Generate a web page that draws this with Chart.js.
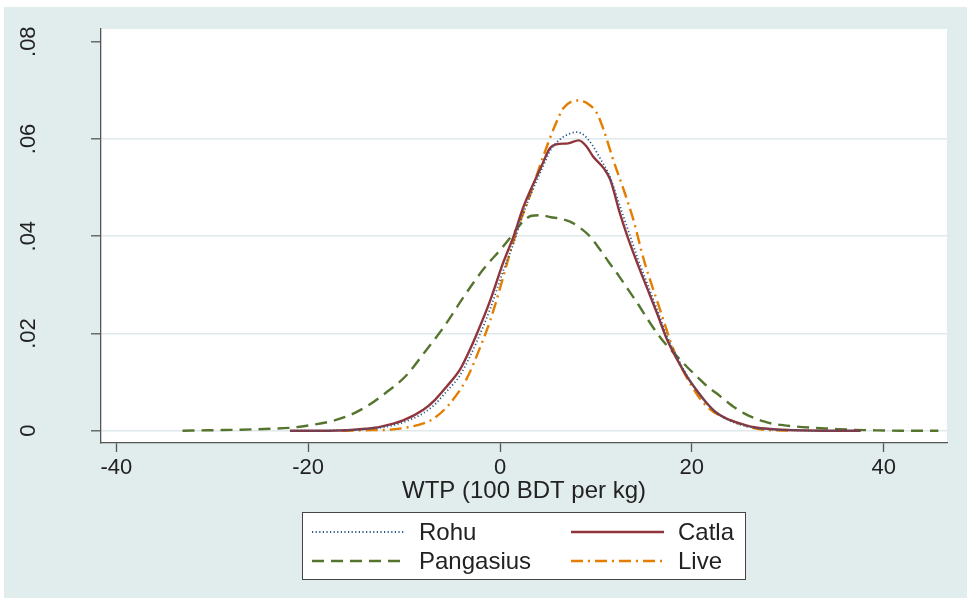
<!DOCTYPE html>
<html>
<head>
<meta charset="utf-8">
<title>WTP kernel density</title>
<script src="https://cdn.jsdelivr.net/npm/chart.js@4.4.1/dist/chart.umd.min.js"></script>
<style>
  html, body { margin: 0; padding: 0; background: #fff; }
  #wrap { width: 971px; height: 603px; }
</style>
</head>
<body>
<div id="wrap"><canvas id="kd" width="971" height="603"></canvas></div>
<script>
// axis ticks
var xTicks = [-40, -20, 0, 20, 40];
var yTicks = [0, 0.02, 0.04, 0.06, 0.08];

// density curves (x = WTP, y = density)
var rohuX = [-21.9, -15.9, -14.0, -12.5, -10.1, -8.0, -6.8, -5.6, -4.2, -3.3, -2.4, -1.0, 0.3, 1.4, 2.4, 3.3, 4.3, 5.3, 6.3, 7.3, 8.0, 8.8, 9.6, 10.5, 11.4, 12.4, 13.4, 14.4, 15.4, 16.4, 17.4, 18.5, 19.5, 20.5, 21.5, 22.5, 23.5, 24.5, 25.5, 26.5, 28.5, 30.6, 33.6, 37.6];
var rohuY = [0, 0.0001, 0.0003, 0.0006, 0.0017, 0.0036, 0.0054, 0.0080, 0.0113, 0.0146, 0.0184, 0.0252, 0.0327, 0.0385, 0.0445, 0.0490, 0.0535, 0.0578, 0.0600, 0.0611, 0.0614, 0.0607, 0.0588, 0.0558, 0.0525, 0.0468, 0.0410, 0.0352, 0.0300, 0.0248, 0.0195, 0.0150, 0.0113, 0.0083, 0.0057, 0.0038, 0.0025, 0.0016, 0.0010, 0.0006, 0.0002, 0.0001, 0, 0];

var catlaX = [-21.9, -17.9, -15.9, -14.0, -12.5, -10.1, -8.0, -6.8, -5.6, -4.2, -3.3, -2.4, -1.0, 0.3, 1.4, 2.4, 3.3, 4.3, 5.2, 5.9, 7.1, 8.2, 9.0, 9.7, 10.8, 11.5, 12.5, 13.4, 14.4, 15.4, 16.4, 17.4, 18.5, 19.5, 20.5, 21.5, 22.5, 23.5, 24.5, 25.5, 26.5, 28.5, 30.6, 33.6, 37.6];
var catlaY = [0, 0, 0.0001, 0.0004, 0.0008, 0.0021, 0.0043, 0.0063, 0.0090, 0.0125, 0.0160, 0.0200, 0.0269, 0.0344, 0.0399, 0.0458, 0.0500, 0.0543, 0.0581, 0.0589, 0.0591, 0.0597, 0.0585, 0.0564, 0.0540, 0.0516, 0.0447, 0.0393, 0.0340, 0.0290, 0.0240, 0.0188, 0.0145, 0.0111, 0.0083, 0.0058, 0.0038, 0.0026, 0.0018, 0.0012, 0.0007, 0.0003, 0.0001, 0, 0];

var pangX = [-33.1, -30, -27, -24, -21.9, -19.9, -17.9, -15.9, -13.9, -11.9, -9.8, -7.8, -5.8, -3.8, -1.7, 0.3, 1.3, 2.3, 3.3, 4.3, 5.3, 6.3, 7.3, 8.3, 9.4, 10.4, 11.4, 12.4, 13.4, 14.4, 15.4, 16.4, 17.4, 18.5, 19.5, 20.5, 21.5, 22.5, 23.5, 24.5, 25.5, 26.5, 27.5, 28.5, 30.6, 32.6, 34.6, 36.6, 38.6, 41.7, 45.7];
var pangY = [0, 0.0001, 0.0002, 0.0004, 0.0006, 0.0011, 0.0018, 0.0030, 0.0050, 0.0078, 0.0113, 0.0163, 0.0215, 0.0275, 0.0333, 0.0378, 0.0403, 0.0428, 0.0442, 0.0443, 0.0439, 0.0436, 0.0430, 0.0418, 0.0399, 0.0373, 0.0345, 0.0318, 0.0289, 0.0260, 0.0229, 0.0200, 0.0175, 0.0152, 0.0131, 0.0112, 0.0093, 0.0078, 0.0062, 0.0047, 0.0035, 0.0026, 0.0019, 0.0014, 0.0009, 0.0006, 0.0004, 0.0002, 0.0001, 0, 0];

var liveX = [-16.5, -14, -11.5, -9.6, -8.0, -7.0, -5.4, -3.5, -2.1, -1.0, 0, 1.0, 1.9, 2.8, 4.5, 5.7, 6.6, 8.0, 9.2, 10.1, 10.8, 11.8, 12.9, 13.9, 15.0, 16.7, 18.1, 19.8, 21.6, 24.0, 27.1, 30.3];
var liveY = [0, 0.0001, 0.0002, 0.0007, 0.0015, 0.0024, 0.0052, 0.0106, 0.0170, 0.0228, 0.0293, 0.0363, 0.0420, 0.0466, 0.0564, 0.0626, 0.0663, 0.0679, 0.0672, 0.0653, 0.0619, 0.0557, 0.0495, 0.0434, 0.0351, 0.0248, 0.0166, 0.0098, 0.0049, 0.0022, 0.0003, 0];

var FONT = '"Liberation Sans", Arial, Helvetica, sans-serif';
var INK = '#222222';
var AXIS = '#555555';

function pts(xs, ys) {
  return xs.map(function (x, i) { return { x: x, y: ys[i] }; });
}

function yLabel(v) {
  if (v === 0) return '0';
  return v.toFixed(2).replace(/^0/, '');
}

// page background, white plot region, rotated y labels
var frame = {
  id: 'frame',
  beforeDraw: function (chart) {
    var ctx = chart.ctx, a = chart.chartArea;
    ctx.save();
    ctx.fillStyle = '#ffffff';
    ctx.fillRect(0, 0, chart.width, chart.height);
    ctx.fillStyle = '#e1eced';
    ctx.fillRect(4, 7, 963, 591);
    ctx.fillStyle = '#ffffff';
    ctx.fillRect(a.left, a.top, a.right - a.left, a.bottom - a.top);
    ctx.restore();
  },
  afterDraw: function (chart) {
    var ctx = chart.ctx, ys = chart.scales.y;
    ctx.save();
    ctx.fillStyle = INK;
    ctx.font = '22px ' + FONT;
    ctx.textAlign = 'center';
    ctx.textBaseline = 'middle';
    ys.ticks.forEach(function (t) {
      var py = ys.getPixelForValue(t.value);
      ctx.save();
      ctx.translate(29, py);
      ctx.rotate(-Math.PI / 2);
      ctx.fillText(yLabel(t.value), 0, 0);
      ctx.restore();
    });
    ctx.restore();
  }
};

// two-column legend box under the axis title
var keyBox = {
  id: 'keyBox',
  afterDraw: function (chart) {
    var ctx = chart.ctx;
    var slots = [[0, 0, 0], [1, 1, 0], [2, 0, 1], [3, 1, 1]];
    var colX = [312, 571], rowY = [532, 561];
    ctx.save();
    ctx.fillStyle = '#ffffff';
    ctx.fillRect(302, 512, 443, 67);
    ctx.strokeStyle = '#444444';
    ctx.lineWidth = 1;
    ctx.strokeRect(302.5, 512.5, 443, 67);
    ctx.font = '24px ' + FONT;
    ctx.textBaseline = 'middle';
    ctx.textAlign = 'left';
    slots.forEach(function (s) {
      var ds = chart.data.datasets[s[0]];
      var x0 = colX[s[1]], y0 = rowY[s[2]];
      ctx.beginPath();
      ctx.setLineDash(ds.borderDash || []);
      ctx.strokeStyle = ds.borderColor;
      ctx.lineWidth = ds.borderWidth;
      ctx.moveTo(x0, y0);
      ctx.lineTo(x0 + 93, y0);
      ctx.stroke();
      ctx.setLineDash([]);
      ctx.fillStyle = INK;
      ctx.fillText(ds.label, x0 + 107, y0 + 1);
    });
    ctx.restore();
  }
};

function curve(label, xs, ys, color, width, dash) {
  return {
    label: label,
    data: pts(xs, ys),
    borderColor: color,
    borderWidth: width,
    borderDash: dash,
    pointRadius: 0,
    fill: false,
    cubicInterpolationMode: 'monotone'
  };
}

new Chart(document.getElementById('kd'), {
  type: 'line',
  data: {
    datasets: [
      curve('Rohu', rohuX, rohuY, '#2b5a88', 1.8, [1.2, 2.4]),
      curve('Catla', catlaX, catlaY, '#90353b', 2.4, []),
      curve('Pangasius', pangX, pangY, '#55752f', 2.4, [12, 7]),
      curve('Live', liveX, liveY, '#e37e00', 2.4, [12, 5, 2, 5])
    ]
  },
  options: {
    responsive: false,
    devicePixelRatio: 1,
    animation: false,
    layout: { padding: { top: 29, right: 24, left: 0, bottom: 0 } },
    plugins: { legend: { display: false }, tooltip: { enabled: false } },
    scales: {
      x: {
        type: 'linear',
        min: -41.6,
        max: 46.6,
        afterBuildTicks: function (s) { s.ticks = xTicks.map(function (v) { return { value: v }; }); },
        afterFit: function (s) { s.height = 160; },
        grid: { drawOnChartArea: false, drawTicks: true, tickLength: 9, tickColor: AXIS, tickWidth: 1.3 },
        border: { display: true, color: AXIS, width: 1.3 },
        ticks: {
          color: INK, font: { family: FONT, size: 22 }, padding: 3,
          maxRotation: 0, autoSkip: false,
          callback: function (v) { return String(v); }
        },
        title: {
          display: true, text: 'WTP (100 BDT per kg)', color: INK,
          font: { family: FONT, size: 24 }, padding: { top: 0, bottom: 97 }
        }
      },
      y: {
        type: 'linear',
        min: -0.00253,
        max: 0.08261,
        afterBuildTicks: function (s) { s.ticks = yTicks.map(function (v) { return { value: v }; }); },
        afterFit: function (s) { s.width = 101; },
        grid: {
          color: function (c) { return c.tick && c.tick.value >= 0.08 ? 'rgba(0,0,0,0)' : '#dde9ea'; },
          lineWidth: 1.6, drawTicks: true, tickLength: 10, tickColor: AXIS, tickWidth: 1.3
        },
        border: { display: true, color: AXIS, width: 1.3 },
        ticks: { display: false }
      }
    }
  },
  plugins: [frame, keyBox]
});
</script>
</body>
</html>
